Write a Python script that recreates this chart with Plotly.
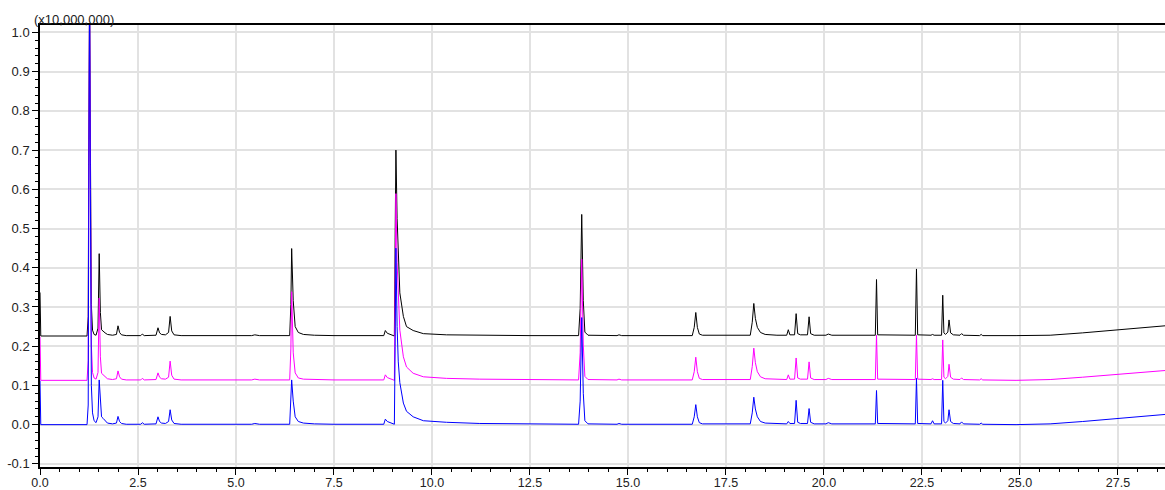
import plotly.graph_objects as go

# Retention time (min) shared by the three traces
retention_time = [
    0.00, 0.02, 1.20, 1.23, 1.245, 1.265, 1.285, 1.31, 1.34, 1.38,
    1.43, 1.48, 1.51, 1.54, 1.57, 1.61, 1.66, 1.72, 1.85, 1.95,
    1.99, 2.03, 2.08, 2.20, 2.57, 2.61, 2.66, 2.96, 3.01, 3.05,
    3.10, 3.20, 3.28, 3.32, 3.36, 3.42, 3.60, 5.40, 5.48, 5.60,
    6.37, 6.40, 6.42, 6.46, 6.51, 6.59, 6.72, 7.00, 7.50, 8.77,
    8.81, 8.86, 8.95, 9.04, 9.06, 9.08, 9.11, 9.14, 9.18, 9.27,
    9.35, 9.52, 9.78, 10.37, 11.22, 12.50, 13.74, 13.78, 13.82, 13.86,
    13.90, 13.98, 14.72, 14.77, 14.84, 16.64, 16.69, 16.73, 16.77, 16.82,
    16.90, 18.12, 18.17, 18.21, 18.25, 18.30, 18.38, 18.50, 18.80, 19.05,
    19.09, 19.13, 19.25, 19.29, 19.33, 19.40, 19.58, 19.62, 19.66, 19.75,
    20.05, 20.11, 20.20, 21.31, 21.34, 21.37, 22.33, 22.36, 22.39, 22.73,
    22.77, 22.81, 23.00, 23.03, 23.06, 23.10, 23.16, 23.19, 23.23, 23.30,
    23.47, 23.51, 23.56, 23.97, 24.01, 24.05, 24.90, 25.77, 26.60, 27.47,
    28.30, 28.70,
]

# Intensities (x10,000,000), relative to each trace's own baseline
signal_blue = [
    0.112, 0.000, 0.000, 0.050, 0.600, 1.100, 0.600, 0.100, 0.030, 0.010,
    0.005, 0.020, 0.114, 0.060, 0.020, 0.016, 0.010, 0.004, 0.002, 0.004,
    0.021, 0.008, 0.003, 0.001, 0.001, 0.005, 0.001, 0.002, 0.020, 0.008,
    0.004, 0.003, 0.008, 0.038, 0.012, 0.003, 0.001, 0.001, 0.003, 0.001,
    0.001, 0.050, 0.114, 0.060, 0.020, 0.008, 0.004, 0.002, 0.001, 0.001,
    0.014, 0.008, 0.004, 0.001, 0.200, 0.450, 0.250, 0.160, 0.107, 0.055,
    0.034, 0.020, 0.010, 0.006, 0.003, 0.002, 0.001, 0.060, 0.273, 0.080,
    0.010, 0.002, 0.001, 0.003, 0.001, 0.001, 0.020, 0.051, 0.020, 0.005,
    0.002, 0.002, 0.030, 0.070, 0.040, 0.020, 0.008, 0.004, 0.002, 0.002,
    0.008, 0.003, 0.003, 0.062, 0.006, 0.003, 0.003, 0.041, 0.006, 0.002,
    0.002, 0.005, 0.002, 0.002, 0.087, 0.003, 0.002, 0.118, 0.003, 0.002,
    0.010, 0.002, 0.002, 0.113, 0.008, 0.004, 0.010, 0.038, 0.008, 0.003,
    0.002, 0.007, 0.002, 0.001, 0.004, 0.001, 0.000, 0.002, 0.008, 0.015,
    0.023, 0.026,
]

signal_magenta = [
    0.111, 0.000, 0.000, 0.050, 0.550, 1.000, 0.550, 0.090, 0.020, 0.006,
    0.003, 0.020, 0.210, 0.060, 0.018, 0.014, 0.009, 0.004, 0.002, 0.004,
    0.024, 0.009, 0.003, 0.001, 0.001, 0.005, 0.001, 0.002, 0.019, 0.008,
    0.004, 0.003, 0.008, 0.049, 0.013, 0.003, 0.001, 0.001, 0.003, 0.001,
    0.001, 0.080, 0.226, 0.070, 0.019, 0.006, 0.003, 0.002, 0.001, 0.001,
    0.014, 0.007, 0.003, 0.000, 0.250, 0.476, 0.300, 0.200, 0.128, 0.060,
    0.034, 0.018, 0.009, 0.005, 0.003, 0.002, 0.001, 0.070, 0.309, 0.090,
    0.010, 0.002, 0.001, 0.003, 0.001, 0.001, 0.022, 0.059, 0.022, 0.005,
    0.002, 0.002, 0.035, 0.082, 0.045, 0.022, 0.009, 0.004, 0.002, 0.002,
    0.014, 0.003, 0.003, 0.057, 0.006, 0.003, 0.003, 0.047, 0.006, 0.002,
    0.002, 0.005, 0.002, 0.002, 0.115, 0.003, 0.002, 0.115, 0.003, 0.002,
    0.004, 0.002, 0.002, 0.103, 0.008, 0.004, 0.010, 0.041, 0.008, 0.003,
    0.002, 0.006, 0.002, 0.001, 0.004, 0.001, 0.000, 0.002, 0.008, 0.015,
    0.023, 0.025,
]

signal_black = [
    0.111, 0.000, 0.000, 0.050, 0.500, 0.900, 0.500, 0.080, 0.015, 0.004,
    0.002, 0.020, 0.210, 0.060, 0.016, 0.012, 0.008, 0.004, 0.002, 0.004,
    0.026, 0.009, 0.003, 0.001, 0.001, 0.005, 0.001, 0.002, 0.021, 0.008,
    0.004, 0.003, 0.009, 0.050, 0.013, 0.003, 0.001, 0.001, 0.003, 0.001,
    0.001, 0.080, 0.223, 0.090, 0.024, 0.009, 0.004, 0.002, 0.001, 0.001,
    0.014, 0.007, 0.003, 0.000, 0.250, 0.474, 0.300, 0.190, 0.110, 0.050,
    0.024, 0.014, 0.006, 0.003, 0.002, 0.001, 0.001, 0.070, 0.310, 0.090,
    0.010, 0.002, 0.001, 0.003, 0.001, 0.001, 0.022, 0.060, 0.022, 0.005,
    0.002, 0.002, 0.035, 0.083, 0.045, 0.022, 0.009, 0.004, 0.002, 0.002,
    0.016, 0.003, 0.003, 0.057, 0.006, 0.003, 0.003, 0.049, 0.006, 0.002,
    0.002, 0.005, 0.002, 0.002, 0.144, 0.003, 0.002, 0.171, 0.003, 0.002,
    0.004, 0.002, 0.002, 0.104, 0.008, 0.004, 0.010, 0.041, 0.008, 0.003,
    0.002, 0.006, 0.002, 0.001, 0.004, 0.001, 0.001, 0.002, 0.008, 0.016,
    0.024, 0.026,
]

trace_names = ["Chromatogram 3", "Chromatogram 2", "Chromatogram 1"]
trace_offsets = [0.226, 0.113, 0.0]
trace_colors = ["#000000", "#ff00ff", "#0000ff"]
trace_signals = [signal_black, signal_magenta, signal_blue]

x_tick_values = [0.0, 2.5, 5.0, 7.5, 10.0, 12.5, 15.0, 17.5, 20.0, 22.5, 25.0, 27.5]
x_tick_labels = ["0.0", "2.5", "5.0", "7.5", "10.0", "12.5", "15.0", "17.5", "20.0", "22.5", "25.0", "27.5"]
y_tick_values = [-0.1, 0.0, 0.1, 0.2, 0.3, 0.4, 0.5, 0.6, 0.7, 0.8, 0.9, 1.0]
y_tick_labels = ["-0.1", "0.0", "0.1", "0.2", "0.3", "0.4", "0.5", "0.6", "0.7", "0.8", "0.9", "1.0"]
scale_label = "(x10,000,000)"

for s in trace_signals:
    assert len(s) == len(retention_time)

fig = go.Figure()
for name, off, col, sig in zip(trace_names, trace_offsets, trace_colors, trace_signals):
    fig.add_trace(go.Scatter(
        x=retention_time,
        y=[v + off for v in sig],
        mode="lines",
        name=name,
        line=dict(color=col, width=1),
        hoverinfo="x+y",
    ))

font_family = "Liberation Sans, Arial, sans-serif"
fig.update_layout(
    width=1165,
    height=490,
    margin=dict(l=40, r=0, t=25, b=23, autoexpand=False),
    paper_bgcolor="white",
    plot_bgcolor="white",
    showlegend=False,
    font=dict(family=font_family, size=13, color="#222222"),
    xaxis=dict(
        range=[0, 28.70],
        automargin=False,
        tickvals=x_tick_values,
        ticktext=x_tick_labels,
        ticks="outside",
        ticklen=6,
        tickwidth=1,
        tickcolor="#000000",
        ticklabelstandoff=-3,
        minor=dict(dtick=0.5, tick0=0, ticks="outside", ticklen=3, tickwidth=1,
                   tickcolor="#000000", showgrid=False),
        showline=True,
        linecolor="#000000",
        linewidth=1.5,
        mirror=True,
        showgrid=True,
        gridcolor="#e2e2e2",
        gridwidth=1.5,
        zeroline=False,
        tickfont=dict(family=font_family, size=12.5, color="#222222"),
    ),
    yaxis=dict(
        range=[-0.108, 1.019],
        automargin=False,
        tickvals=y_tick_values,
        ticktext=y_tick_labels,
        ticks="outside",
        ticklen=6,
        tickwidth=1,
        tickcolor="#000000",
        minor=dict(dtick=0.02, tick0=0, ticks="outside", ticklen=3, tickwidth=1,
                   tickcolor="#000000", showgrid=False),
        showline=True,
        linecolor="#000000",
        linewidth=1.5,
        showgrid=True,
        gridcolor="#e2e2e2",
        gridwidth=1.5,
        zeroline=False,
        tickfont=dict(family=font_family, size=13, color="#222222"),
    ),
    annotations=[dict(
        text=scale_label,
        xref="paper", yref="paper",
        x=0, y=1,
        xanchor="left", yanchor="bottom",
        xshift=-8, yshift=-4,
        showarrow=False,
        font=dict(family=font_family, size=13, color="#222222"),
    )],
)

fig.write_html("out.html")
